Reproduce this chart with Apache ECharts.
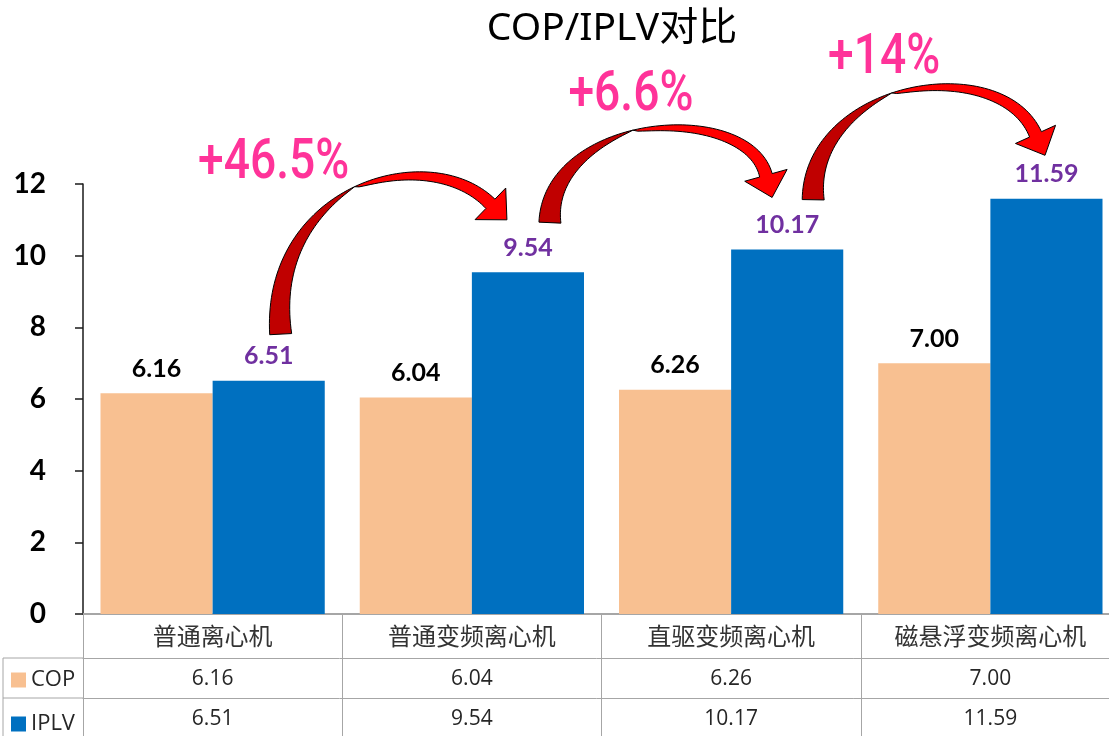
<!DOCTYPE html>
<html>
<head>
<meta charset="utf-8">
<script src="https://cdn.jsdelivr.net/npm/echarts@6/dist/echarts.min.js"></script>
<style>
  html, body { margin: 0; padding: 0; background: #fff; }
  #chart { width: 1109px; height: 736px; }
</style>
</head>
<body>
<div id="chart"></div>
<script>
// Chiller efficiency comparison: COP vs IPLV per chiller type
const categories = ['普通离心机', '普通变频离心机', '直驱变频离心机', '磁悬浮变频离心机'];
const copValues = [6.16, 6.04, 6.26, 7.00];
const iplvValues = [6.51, 9.54, 10.17, 11.59];
const seriesNames = ['COP', 'IPLV'];
const gainLabels = ['+46.5%', '+6.6%', '+14%'];
const yMin = 0, yMax = 12, yStep = 2;

const COP_COLOR = '#F8C091';
const IPLV_COLOR = '#0070C0';
const GRID_LINE = '#A6A6A6';

// Curved-arrow geometry, as pixel offsets from the tops of the two IPLV bars it joins
const arrowLayout = [
  { p0: [1, -46], p1: [-7, -196], p2: [-99, -137], p3: [-33, -73], t0: 0.5, label: [5, -216] },
  { p0: [11, -50], p1: [16, -160], p2: [-37, -155], p3: [-15, -76], t0: 0.45, label: [103, -176] },
  { p0: [15, -50], p1: [17, -170], p2: [-44, -153], p3: [-5, -67], t0: 0.45, label: [97, -190] }
];

const chart = echarts.init(document.getElementById('chart'));
const fmt = v => v.toFixed(2);

const tableAxis = (values, offset, tickLen) => ({
  type: 'category',
  data: values,
  position: 'bottom',
  offset: offset,
  axisLine: { show: true, lineStyle: { color: GRID_LINE, width: 1 } },
  axisTick: { show: true, length: tickLen, interval: 0, lineStyle: { color: GRID_LINE, width: 1 } },
  axisLabel: { interval: 0, margin: 11, fontSize: 21, color: '#262626',
               fontFamily: 'Open Sans, Noto Sans, sans-serif' },
  splitLine: { show: false }
});

chart.setOption({
  animation: false,
  title: {
    text: 'COP/IPLV对比',
    left: 607,
    top: 4,
    textAlign: 'center',
    textStyle: { fontSize: 39, fontWeight: 'normal', color: '#000',
                 fontFamily: 'Noto Sans, Noto Sans CJK SC, sans-serif' }
  },
  legend: {
    data: seriesNames,
    orient: 'vertical',
    left: 11,
    top: 669,
    padding: 0,
    itemWidth: 15,
    itemHeight: 15,
    itemGap: 22,
    icon: 'rect',
    textStyle: { fontSize: 22, lineHeight: 18, color: '#262626',
                 fontFamily: 'Open Sans, Noto Sans, sans-serif' }
  },
  grid: { left: 83, width: 1037, top: 184, bottom: 122, containLabel: false,
           outerBoundsMode: 'none' },
  xAxis: [
    {
      type: 'category',
      data: categories,
      position: 'bottom',
      axisLine: { show: true, lineStyle: { color: GRID_LINE, width: 2 } },
      axisTick: { show: true, length: 44, interval: 0, lineStyle: { color: GRID_LINE, width: 1 } },
      axisLabel: { interval: 0, margin: 10, fontSize: 24, color: '#333',
                   fontFamily: 'Noto Sans CJK SC, sans-serif' }
    },
    tableAxis(copValues.map(fmt), 44, 40),
    tableAxis(iplvValues.map(fmt), 84, 40)
  ],
  yAxis: {
    type: 'value',
    min: yMin,
    max: yMax,
    interval: yStep,
    axisLine: { show: true, lineStyle: { color: '#1a1a1a', width: 1.5 } },
    axisTick: { show: true, length: 8, lineStyle: { color: '#1a1a1a', width: 1.5 } },
    axisLabel: { margin: 37, fontSize: 28, fontWeight: 'bold', color: '#000',
                 fontFamily: 'Lato, Open Sans, sans-serif' },
    splitLine: { show: false }
  },
  series: [
    {
      name: seriesNames[0],
      type: 'bar',
      data: copValues,
      barGap: '0%',
      barCategoryGap: '13.5%',
      itemStyle: { color: COP_COLOR },
      label: { show: true, position: 'top', distance: 12, formatter: p => fmt(p.value),
               fontSize: 25, fontWeight: 'bold', color: '#000', fontFamily: 'Lato, Open Sans, sans-serif' }
    },
    {
      name: seriesNames[1],
      type: 'bar',
      data: iplvValues,
      barGap: '0%',
      barCategoryGap: '13.5%',
      itemStyle: { color: IPLV_COLOR },
      label: { show: true, position: 'top', distance: 12, formatter: p => fmt(p.value),
               fontSize: 25, fontWeight: 'bold', color: '#7030A0', fontFamily: 'Lato, Open Sans, sans-serif' }
    }
  ]
});

// Top-centre pixel of each IPLV bar, taken from the bar layout
function iplvTop(i) {
  const data = chart.getModel().getSeriesByIndex(1).getData();
  const r = data.getItemLayout(i);
  if (r && r.width != null) {
    return [r.x + r.width / 2, Math.min(r.y, r.y + r.height)];
  }
  return chart.convertToPixel({ xAxisIndex: 0, yAxisIndex: 0 }, [i, iplvValues[i]]);
}

function bez(p, t) {
  const u = 1 - t;
  const a = u * u * u, b = 3 * u * u * t, c = 3 * u * t * t, d = t * t * t;
  return [a * p[0][0] + b * p[1][0] + c * p[2][0] + d * p[3][0],
          a * p[0][1] + b * p[1][1] + c * p[2][1] + d * p[3][1]];
}
function bezD(p, t) {
  const u = 1 - t;
  const dx = 3 * u * u * (p[1][0] - p[0][0]) + 6 * u * t * (p[2][0] - p[1][0]) + 3 * t * t * (p[3][0] - p[2][0]);
  const dy = 3 * u * u * (p[1][1] - p[0][1]) + 6 * u * t * (p[2][1] - p[1][1]) + 3 * t * t * (p[3][1] - p[2][1]);
  const l = Math.hypot(dx, dy) || 1;
  return [dx / l, dy / l];
}

// Ribbon-style curved arrow: dark rising half, bright falling half with head
function curvedArrow(ctrl, t0) {
  const W0 = 22, W1 = 13, HEAD_HALF = 22, HEAD_LEN = 23, N = 40;
  const width = t => t <= t0 ? W0 * Math.pow(1 - t / t0, 0.85)
                             : W1 * Math.sqrt((t - t0) / (1 - t0));
  const outer = t => bez(ctrl, t);
  const inner = t => {
    const o = bez(ctrl, t), d = bezD(ctrl, t), w = width(t);
    return [o[0] - d[1] * w, o[1] + d[0] * w];
  };
  const dark = [], bright = [];
  for (let k = 0; k <= N; k++) dark.push(outer(t0 * k / N));
  for (let k = N; k >= 0; k--) dark.push(inner(t0 * k / N));
  for (let k = 0; k <= N; k++) bright.push(outer(t0 + (1 - t0) * k / N));
  const d1 = bezD(ctrl, 1), n1 = [-d1[1], d1[0]], o1 = bez(ctrl, 1);
  const H = [o1[0] + n1[0] * W1 / 2, o1[1] + n1[1] * W1 / 2];
  bright.push([H[0] - n1[0] * HEAD_HALF, H[1] - n1[1] * HEAD_HALF]);
  bright.push([H[0] + d1[0] * HEAD_LEN, H[1] + d1[1] * HEAD_LEN]);
  bright.push([H[0] + n1[0] * HEAD_HALF, H[1] + n1[1] * HEAD_HALF]);
  for (let k = N; k >= 0; k--) bright.push(inner(t0 + (1 - t0) * k / N));
  return [
    { type: 'polygon', z: 100, shape: { points: dark },
      style: { fill: '#C00000', stroke: '#000', lineWidth: 1 } },
    { type: 'polygon', z: 100, shape: { points: bright },
      style: { fill: '#FF0000', stroke: '#000', lineWidth: 1 } }
  ];
}

const graphics = [];
arrowLayout.forEach((g, i) => {
  const A = iplvTop(i), B = iplvTop(i + 1);
  const ctrl = [
    [A[0] + g.p0[0], A[1] + g.p0[1]],
    [A[0] + g.p1[0], A[1] + g.p1[1]],
    [B[0] + g.p2[0], B[1] + g.p2[1]],
    [B[0] + g.p3[0], B[1] + g.p3[1]]
  ];
  graphics.push(...curvedArrow(ctrl, g.t0));
  // Percentage gain, set in a narrowed face
  graphics.push({
    type: 'text', z: 110,
    x: A[0] + g.label[0], y: A[1] + g.label[1],
    scaleX: 0.84,
    style: {
      text: gainLabels[i], fill: '#FF3399',
      fontSize: 55, fontWeight: 500, fontFamily: 'Roboto, Noto Sans, sans-serif',
      align: 'center', verticalAlign: 'middle',
      shadowColor: 'rgba(0,0,0,0.35)', shadowBlur: 3, shadowOffsetX: 2, shadowOffsetY: 2
    }
  });
});

// Borders of the legend column beside the value rows
[[3, 658, 83, 658], [3, 698, 83, 698], [3, 658, 3, 736]].forEach(s => {
  graphics.push({ type: 'line', z: 5, shape: { x1: s[0], y1: s[1], x2: s[2], y2: s[3] },
                  style: { stroke: GRID_LINE, lineWidth: 1 } });
});

chart.setOption({ graphic: graphics });
</script>
</body>
</html>
